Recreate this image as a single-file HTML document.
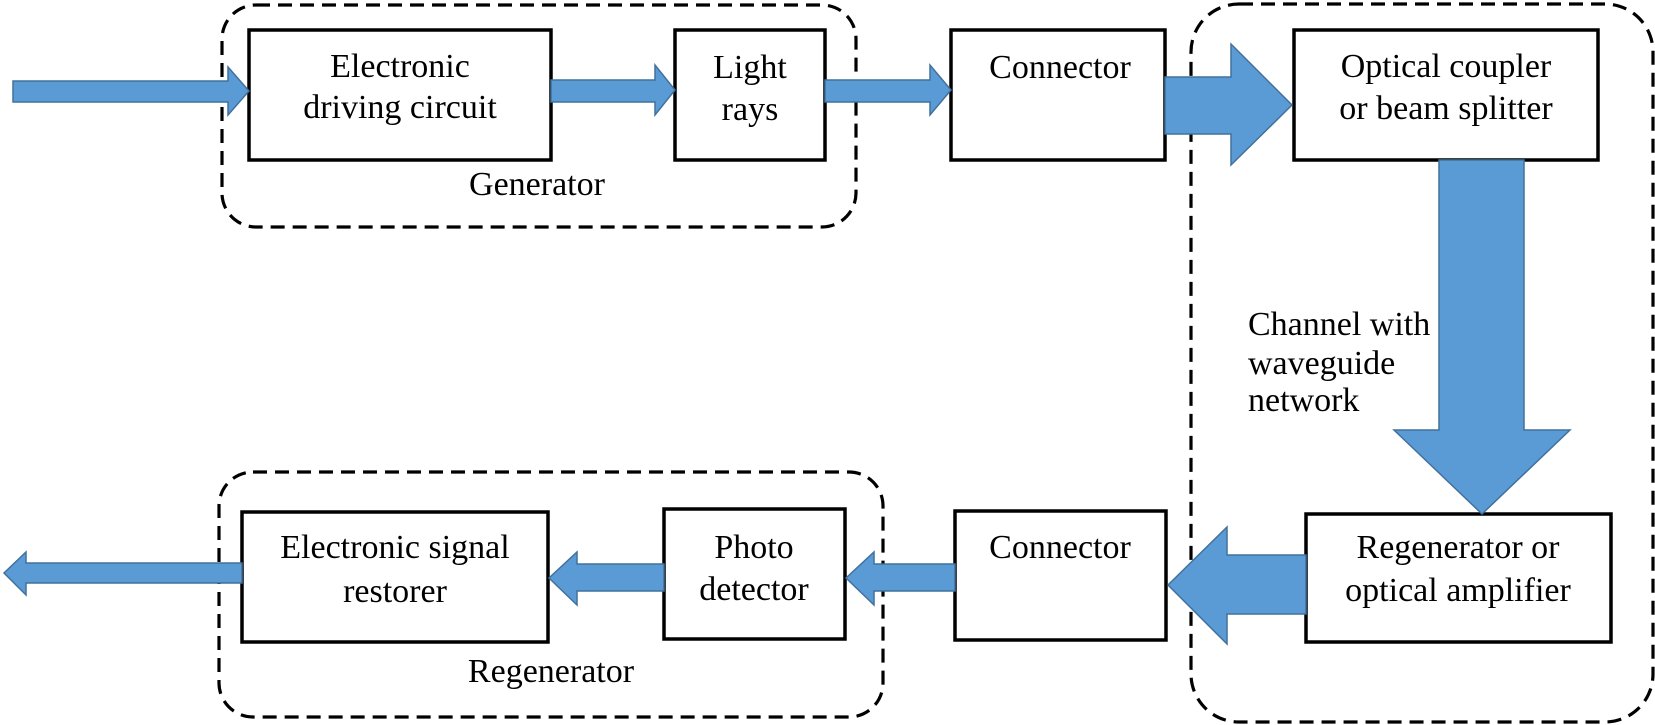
<!DOCTYPE html>
<html><head><meta charset="utf-8"><style>
html,body{margin:0;padding:0;background:#fff;width:1655px;height:725px;overflow:hidden}
svg text{font-family:"Liberation Serif","Times New Roman",Times,serif;font-size:34px;fill:#000}
</style></head><body>
<svg width="1655" height="725" viewBox="0 0 1655 725" xmlns="http://www.w3.org/2000/svg">
<g fill="none" stroke="#000" stroke-width="3.2" stroke-dasharray="14,8">
<rect x="222" y="5" width="634" height="222" rx="34"/>
<rect x="219" y="472" width="664" height="245" rx="34"/>
<rect x="1191" y="4" width="462" height="718" rx="48"/>
</g>
<g fill="#fff" stroke="#000" stroke-width="3.5">
<rect x="249" y="30" width="302" height="130"/>
<rect x="675" y="30" width="150" height="130"/>
<rect x="951" y="30" width="214" height="130"/>
<rect x="1294" y="30" width="304" height="130"/>
<rect x="1306" y="514" width="305" height="128"/>
<rect x="955" y="511" width="211" height="129"/>
<rect x="664" y="509" width="181" height="130"/>
<rect x="242" y="512" width="306" height="130"/>
</g>
<g fill="#5b9bd5" stroke="#41719c" stroke-width="1.5">
<polygon points="13,81 228,81 228,67 249,91 228,115 228,102 13,102"/>
<polygon points="551,80 655,80 655,65 675,90 655,115 655,102 551,102"/>
<polygon points="825,80 930,80 930,65 951,90 930,115 930,102 825,102"/>
<polygon points="1165,77 1231,77 1231,44 1292,105 1231,165 1231,134 1165,134"/>
<polygon points="1439,160 1524,160 1524,430 1570,430 1482,514 1394,430 1439,430"/>
<polygon points="1306,555 1227,555 1227,527 1168,585 1227,644 1227,614 1306,614"/>
<polygon points="664,564 577,564 577,552 549,578 577,605 577,591 664,591"/>
<polygon points="955,564 874,564 874,552 846,578 874,605 874,591 955,591"/>
<polygon points="242,563 26,563 26,552 4,573 26,595 26,583 242,583"/>
</g>
<g text-anchor="middle" font-family="Liberation Serif, serif" font-size="34">
<text x="400" y="77">Electronic</text>
<text x="400" y="118">driving circuit</text>
<text x="750" y="78">Light</text>
<text x="750" y="120">rays</text>
<text x="1060" y="78">Connector</text>
<text x="1446" y="77">Optical coupler</text>
<text x="1446" y="119">or beam splitter</text>
<text x="1458" y="558">Regenerator or</text>
<text x="1458" y="601">optical amplifier</text>
<text x="1060" y="558">Connector</text>
<text x="754" y="558">Photo</text>
<text x="754" y="600">detector</text>
<text x="395" y="558">Electronic signal</text>
<text x="395" y="602">restorer</text>
<text x="537" y="195">Generator</text>
<text x="551" y="682">Regenerator</text>
</g>
<g font-family="Liberation Serif, serif" font-size="34">
<text x="1248" y="335">Channel with</text>
<text x="1248" y="374">waveguide</text>
<text x="1248" y="411">network</text>
</g>
</svg>
</body></html>
